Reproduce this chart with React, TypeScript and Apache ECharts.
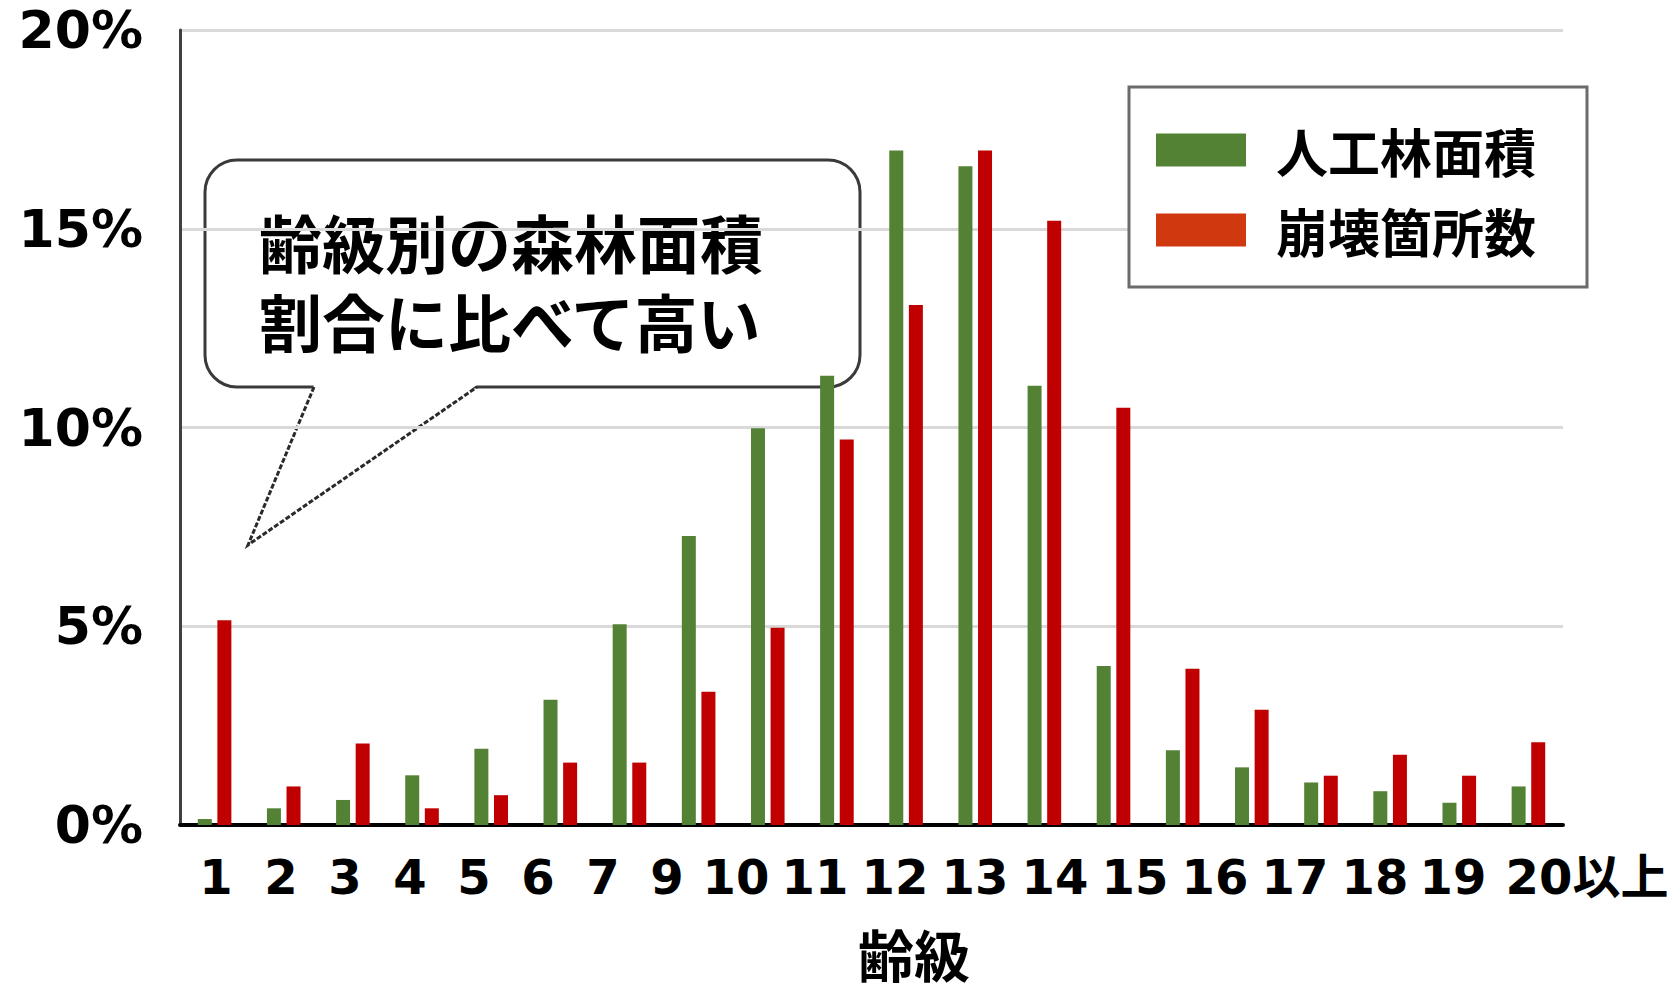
import React, { useEffect, useRef } from "react";
import * as echarts from "echarts";

// ---- data ----
const CATEGORIES = ["1", "2", "3", "4", "5", "6", "7", "8", "9", "10", "11", "12", "13", "14", "15", "16", "17", "18", "19", "20以上"];
const FOREST_AREA = [0.15, 0.42, 0.63, 1.25, 1.92, 3.15, 5.05, 7.27, 9.98, 11.3, 16.97, 16.57, 11.05, 4.0, 1.88, 1.45, 1.07, 0.85, 0.56, 0.97];
const COLLAPSES = [5.15, 0.97, 2.05, 0.42, 0.75, 1.57, 1.57, 3.35, 4.96, 9.7, 13.08, 16.97, 15.2, 10.5, 3.93, 2.9, 1.24, 1.77, 1.24, 2.08];
const SERIES_NAMES = ["人工林面積", "崩壊箇所数"];
const TICK_LABELS = ["1", "2", "3", "4", "5", "6", "7", "9", "10", "11", "12", "13", "14", "15", "16", "17", "18", "19", "20以上"];
const AXIS_NAME = "齢級";
const CALLOUT_TEXT = "齢級別の森林面積\n割合に比べて高い";

// ---- layout (not data) ----
const TICK_LABEL_X = [216, 281, 345, 410, 474, 538, 603, 667, 736, 815, 895, 975, 1055, 1135, 1215, 1295, 1375, 1453, 1587];

const LATIN = "'DejaVu Sans', 'Noto Sans CJK JP', sans-serif";
const CJK = "'Noto Sans CJK JP', sans-serif";

export default function App() {
  const ref = useRef<HTMLDivElement>(null);
  useEffect(() => {
    if (!ref.current) return;
    const chart = echarts.init(ref.current, null, { renderer: "svg" });
    const tickTexts = TICK_LABELS.map((t, i) => ({
      type: "text",
      x: TICK_LABEL_X[i],
      y: 877,
      style: {
        text: t,
        fill: "#000",
        font: `bold 48px ${LATIN}`,
        textAlign: "center",
        textVerticalAlign: "middle",
      },
    }));
    chart.setOption({
      animation: false,
      backgroundColor: "#fff",
      grid: { left: 180, right: 110, top: 30, bottom: 168, containLabel: false, outerBoundsMode: "none" },
      legend: {
        orient: "vertical",
        left: 1129,
        top: 87,
        padding: [37, 51, 31, 27],
        itemGap: 28,
        itemWidth: 90,
        itemHeight: 33,
        icon: "rect",
        borderColor: "#6b6b6b",
        borderWidth: 3,
        backgroundColor: "#fff",
        textStyle: {
          fontFamily: CJK,
          fontWeight: "bold",
          fontSize: 52,
          color: "#000",
          padding: [0, 0, 0, 25],
        },
        data: [
          { name: SERIES_NAMES[0], itemStyle: { color: "#548235" } },
          { name: SERIES_NAMES[1], itemStyle: { color: "#D0390F" } },
        ],
        z: 20,
      },
      xAxis: {
        type: "category",
        data: CATEGORIES,
        axisLine: { lineStyle: { color: "#000", width: 4 } },
        axisTick: { show: false },
        axisLabel: { show: false },
      },
      yAxis: {
        type: "value",
        min: 0,
        max: 20,
        interval: 5,
        axisLine: { show: true, lineStyle: { color: "#404040", width: 3 } },
        axisTick: { show: false },
        axisLabel: {
          formatter: "{value}%",
          fontFamily: LATIN,
          fontWeight: "bold",
          fontSize: 52,
          color: "#000",
          margin: 37,
        },
        splitLine: { lineStyle: { color: "#D9D9D9", width: 3 } },
      },
      series: [
        {
          name: SERIES_NAMES[0],
          type: "bar",
          data: FOREST_AREA,
          barWidth: 14,
          barGap: "40%",
          itemStyle: { color: "#548235" },
        },
        {
          name: SERIES_NAMES[1],
          type: "bar",
          data: COLLAPSES,
          barWidth: 14,
          itemStyle: { color: "#C00000" },
        },
      ],
      graphic: [
        ...tickTexts,
        {
          type: "text",
          x: 914,
          y: 952,
          style: {
            text: AXIS_NAME,
            fill: "#000",
            font: `bold 56px ${CJK}`,
            textAlign: "center",
            textVerticalAlign: "middle",
          },
        },
        {
          type: "group",
          z: 100,
          children: [
            {
              type: "rect",
              shape: { x: 205, y: 160, width: 655, height: 227, r: 32 },
              style: { fill: "#fff", stroke: "#3a3a3a", lineWidth: 3 },
            },
            {
              type: "polygon",
              shape: { points: [[314, 385], [248, 545], [477, 385]] },
              style: { fill: "#fff", stroke: "none" },
            },
            {
              type: "polyline",
              shape: { points: [[314, 387], [248, 545], [477, 387]] },
              style: { stroke: "#2a2a2a", lineWidth: 3, fill: "none", lineDash: [5, 2] },
            },
            {
              type: "text",
              x: 259,
              y: 280,
              style: {
                text: CALLOUT_TEXT,
                font: `bold 63px ${CJK}`,
                lineHeight: 79,
                fill: "#000",
                textVerticalAlign: "middle",
              },
            },
          ],
        },
      ],
    });
    return () => chart.dispose();
  }, []);
  return (
    <div
      ref={ref}
      style={{ position: "absolute", left: 0, top: 0, width: 1673, height: 993 }}
    />
  );
}
